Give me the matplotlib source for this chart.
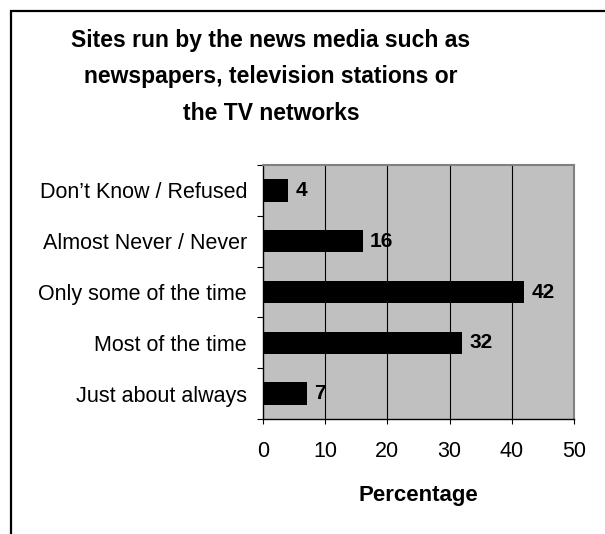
import matplotlib
matplotlib.use("Agg")
import matplotlib.pyplot as plt
import matplotlib.patches as patches
import numpy as np

plt.rcParams['font.family'] = ['Liberation Sans', 'DejaVu Sans']

title_lines = ["Sites run by the news media such as",
               "newspapers, television stations or",
               "the TV networks"]
categories = ["Don\u2019t Know / Refused", "Almost Never / Never", "Only some of the time",
              "Most of the time", "Just about always"]
values = [4, 16, 42, 32, 7]
xticks = [0, 10, 20, 30, 40, 50]
xlabel = "Percentage"

W, H = 605, 534
fig = plt.figure(figsize=(W / 100, H / 100), dpi=100)
fig.patch.set_facecolor("white")

# outer border (only top/left visible in the crop)
border = patches.Rectangle((11 / W, -0.2), 1.2, 1 - 11 / H + 0.2, transform=fig.transFigure,
                           fill=False, edgecolor="black", lw=1.6, clip_on=False)
fig.patches.append(border)

L, R, T, B = 263, 574, 165, 419
ax = fig.add_axes([L / W, 1 - B / H, (R - L) / W, (B - T) / H])
ax.set_facecolor("#C0C0C0")

n = len(categories)
ypos = np.arange(n)[::-1]
ax.barh(ypos, values, height=0.44, color="black", zorder=3)
for y, v in zip(ypos, values):
    ax.annotate(str(v), (v, y), xytext=(5.3, 0), textcoords="offset points",
                ha="left", va="center", fontsize=15, fontweight="bold", zorder=4)

ax.set_xlim(0, 50)
ax.set_ylim(-0.5, n - 0.5)
ax.set_xticks(xticks)
ax.set_xticklabels([str(t) for t in xticks], fontsize=15.5)
ax.set_yticks(ypos)
ax.set_yticklabels(categories, fontsize=15.5)
ax.set_yticks(np.arange(-0.5, n, 1.0), minor=True)
ax.tick_params(axis="y", which="major", length=0, pad=11.5)
ax.tick_params(axis="y", which="minor", length=4.3, width=0.8, direction="out", color="black")
ax.tick_params(axis="x", which="major", length=3.6, width=0.8, direction="out", pad=12)

for x in xticks[1:-1]:
    ax.axvline(x, color="black", lw=0.8, zorder=2)

ax.spines["left"].set_color("black")
ax.spines["bottom"].set_color("black")
ax.spines["left"].set_linewidth(1.0)
ax.spines["bottom"].set_linewidth(1.0)
ax.spines["top"].set_color("#808080")
ax.spines["right"].set_color("#808080")
ax.spines["top"].set_linewidth(1.5)
ax.spines["right"].set_linewidth(1.5)

ax.set_xlabel(xlabel, fontsize=16, fontweight="bold", labelpad=17)

for i, line in enumerate(title_lines):
    fig.text(271 / W, 1 - (40 + 37 * i) / H, line, ha="center", va="center",
             fontsize=16.5, fontweight="bold")

fig.savefig("out.png", dpi=100, facecolor="white")
